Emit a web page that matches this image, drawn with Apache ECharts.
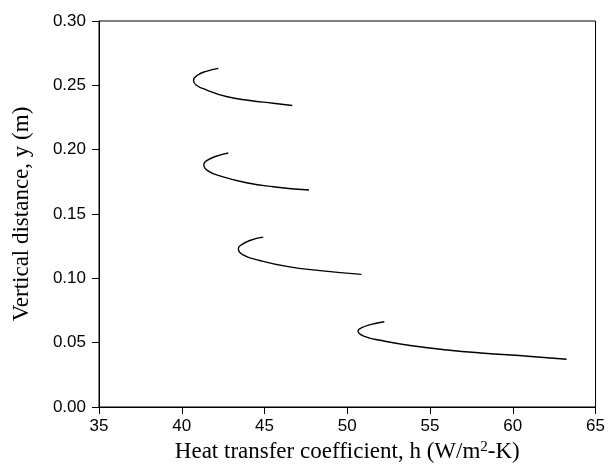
<!DOCTYPE html>
<html>
<head>
<meta charset="utf-8">
<title>h vs y</title>
<script src="https://cdn.jsdelivr.net/npm/echarts@6/dist/echarts.min.js"></script>
<style>
  body, html, #main {width:100%;height:100%;margin:0;overflow:hidden;background:#fff;}
</style>
</head>
<body>
<div id="main"></div>
<script type="text/javascript">
// x ticks / y ticks
var xTicks = [35, 40, 45, 50, 55, 60, 65];
var yTicks = [0.00, 0.05, 0.10, 0.15, 0.20, 0.25, 0.30];

// four hook-shaped curves: [h, y]
var curve1 = [[42.21,0.2632],[41.48,0.2609],[40.97,0.2580],[40.71,0.2540],[40.87,0.2503],[41.48,0.2465],
              [42.69,0.2413],[44.11,0.2382],[45.52,0.2361],[46.68,0.2343]];
var curve2 = [[42.81,0.1974],[42.08,0.1949],[41.48,0.1913],[41.33,0.1885],[41.58,0.1835],[42.49,0.1789],
              [43.91,0.1743],[45.52,0.1712],[47.69,0.1686]];
var curve3 = [[44.92,0.1320],[44.11,0.1294],[43.54,0.1255],[43.42,0.1230],[43.70,0.1183],[44.71,0.1139],
              [46.34,0.1093],[48.36,0.1060],[50.85,0.1031]];
var curve4 = [[52.24,0.0663],[51.39,0.0640],[50.79,0.0611],[50.65,0.0590],[50.99,0.0551],[52.20,0.0513],
              [54.02,0.0474],[56.05,0.0443],[58.07,0.0420],[61.10,0.0393],[63.25,0.0371]];

var chart = echarts.init(document.getElementById('main'));
function mk(d){
    return {type:'line', data:d, showSymbol:false, smooth:true,
            lineStyle:{color:'#000', width:1.4}, animation:false};
}
var option = {
    animation:false,
    grid:{left:99, right:11, top:21, bottom:64, show:true, borderColor:'#000', borderWidth:1},
    xAxis:{
        type:'value', min:xTicks[0], max:xTicks[xTicks.length-1], interval:5,
        name:'Heat transfer coefficient, h (W/m{sup|2}-K)',
        nameLocation:'middle', nameGap:30,
        nameTextStyle:{fontFamily:'Liberation Serif', fontSize:23, color:'#000',
            rich:{sup:{fontFamily:'Liberation Serif', fontSize:15, color:'#000', verticalAlign:'top', padding:[0,0,10,0]}}},
        axisLine:{lineStyle:{color:'#000', width:1}},
        axisTick:{length:7, lineStyle:{color:'#000'}},
        axisLabel:{fontFamily:'Liberation Sans', fontSize:17, color:'#000', margin:11},
        splitLine:{show:false}
    },
    yAxis:{
        type:'value', min:yTicks[0], max:yTicks[yTicks.length-1], interval:0.05,
        name:'Vertical distance, y (m)',
        nameLocation:'middle', nameGap:66,
        nameTextStyle:{fontFamily:'Liberation Serif', fontSize:23, color:'#000'},
        axisLine:{lineStyle:{color:'#000', width:1}},
        axisTick:{length:7, lineStyle:{color:'#000'}},
        axisLabel:{fontFamily:'Liberation Sans', fontSize:17, color:'#000', margin:13,
            formatter:function(v){return v.toFixed(2);}},
        splitLine:{show:false}
    },
    series:[mk(curve1), mk(curve2), mk(curve3), mk(curve4)]
};
chart.setOption(option);
</script>
</body>
</html>
